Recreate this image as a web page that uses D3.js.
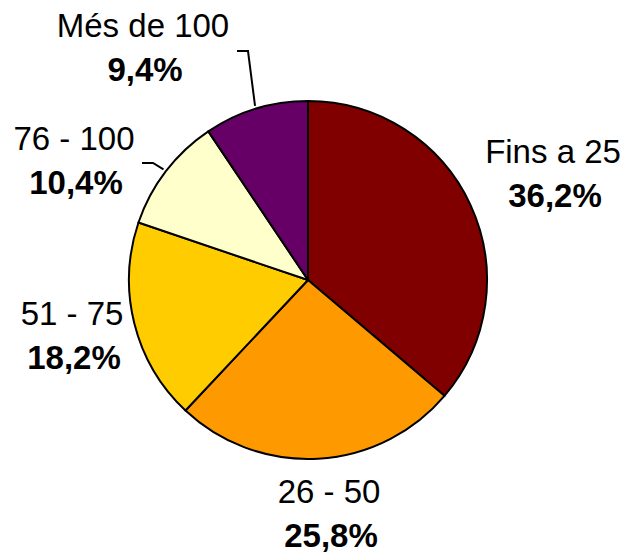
<!DOCTYPE html>
<meta charset="utf-8">
<style>
  body { margin: 0; background: white; }
  .lbl { font-family: "Liberation Sans", Arial, sans-serif; font-size: 33px; fill: black; text-anchor: middle; }
  .pct { font-weight: bold; }
</style>
<script src="https://cdn.jsdelivr.net/npm/d3@7"></script>
<body>
<script>

  var w = 627;
  var h = 555;

  var categories = ["Fins a 25", "26 - 50", "51 - 75", "76 - 100", "Més de 100"];
  var values = [36.2, 25.8, 18.2, 10.4, 9.4];
  var colors = ["#800000", "#FF9900", "#FFCC00", "#FFFFCC", "#660066"];

  // label anchor (center x, baseline y of first line), manual like the original
  var labelPos = [[553, 163], [329, 503], [72, 325], [74, 150], [143, 37]];
  // elbow of leader line (only for the small slices)
  var leaders = [null, null, null, [142, 153, 163], [237, 248, 51]];

  var cx = 308, cy = 280, r = 179;

  var svg = d3.select("body").append("svg")
              .attr("width", w)
              .attr("height", h);

  var pie = d3.pie().sort(null).value(function (d) { return d; });
  var arcs = pie(values);

  var arc = d3.arc().innerRadius(0).outerRadius(r);

  var g = svg.append("g").attr("transform", "translate(" + cx + "," + cy + ")");

  g.selectAll("path")
   .data(arcs)
   .enter()
   .append("path")
   .attr("d", arc)
   .attr("fill", function (d, i) { return colors[i]; })
   .attr("stroke", "black")
   .attr("stroke-width", 2)
   .attr("stroke-linejoin", "round");

  // leader lines
  arcs.forEach(function (d, i) {
    var l = leaders[i];
    if (!l) return;
    var a = (d.startAngle + d.endAngle) / 2;
    var px = cx + (r + 3) * Math.sin(a);
    var py = cy - (r + 3) * Math.cos(a);
    svg.append("polyline")
       .attr("points", [[l[0], l[2]], [l[1], l[2]], [px, py]].map(function (p) { return p.join(","); }).join(" "))
       .attr("fill", "none")
       .attr("stroke", "black")
       .attr("stroke-width", 2);
  });

  var fmt = function (v) { return v.toFixed(1).replace(".", ",") + "%"; };

  var labels = svg.selectAll("g.label")
                  .data(arcs)
                  .enter()
                  .append("g")
                  .attr("class", "label");

  labels.append("text")
        .attr("class", "lbl")
        .attr("x", function (d, i) { return labelPos[i][0]; })
        .attr("y", function (d, i) { return labelPos[i][1]; })
        .text(function (d, i) { return categories[i]; });

  labels.append("text")
        .attr("class", "lbl pct")
        .attr("x", function (d, i) { return labelPos[i][0] + 2; })
        .attr("y", function (d, i) { return labelPos[i][1] + 44; })
        .text(function (d) { return fmt(d.data); });

</script>
</body>
